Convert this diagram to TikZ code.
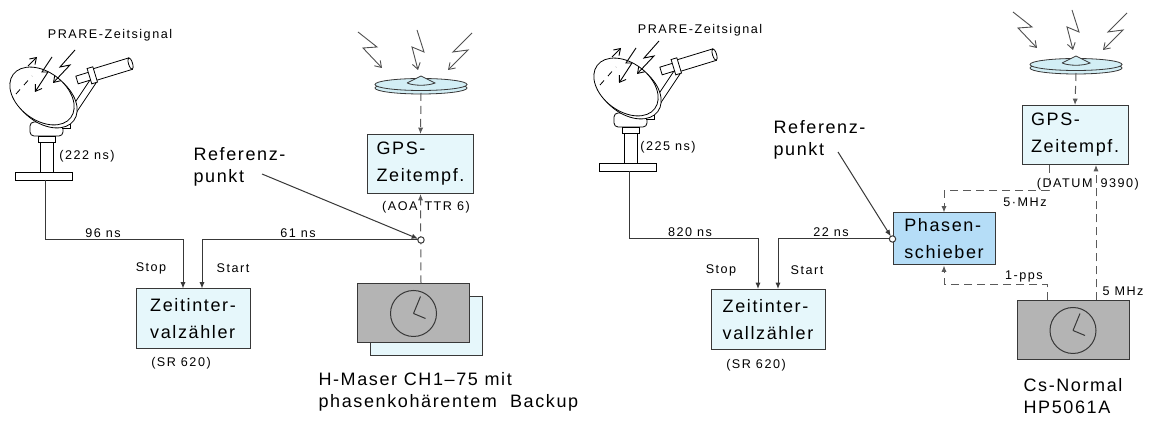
\documentclass[tikz,border=0pt]{standalone}
\usepackage{fontspec}
\setmainfont{Liberation Sans}
\newfontfamily\labelfont[LetterSpace=9]{Liberation Sans}
\newfontfamily\notefont[LetterSpace=12]{Liberation Sans}
\usetikzlibrary{arrows.meta,calc}
\definecolor{boxCyan}{HTML}{E6F7FB}
\definecolor{boxBlue}{HTML}{B5DDF7}
\definecolor{clockGray}{HTML}{B4B4B4}
\definecolor{lineGray}{HTML}{383838}
\definecolor{dashGray}{HTML}{5A5A5A}
\definecolor{boltGray}{HTML}{505050}
\definecolor{dishCyan}{HTML}{D2EEF5}

% satellite dish with three incoming bolts
\newcommand{\gpsdish}[2]{%
  \begin{scope}[shift={#1}]
    \draw[bolt] (358,32) -- (377,47) -- (363,48) -- (382,68);
    \draw[bolt] (417,30) -- (424,52) -- (412,47) -- (418,70);
    \draw[bolt] (472,33) -- (453,52) -- (468,50) -- (448,70);
    \draw[dish] (421,88) ellipse [x radius=23pt, y radius=3pt];
    \draw[dish] (421,84.5) ellipse [x radius=23pt, y radius=3pt];
    \draw[dish] (407,83) -- (421,76) -- (435,83) .. controls (428,86) and (414,86) .. (407,83);
    \coordinate (#2) at (421,93);
  \end{scope}}

% PRARE ground antenna on its pedestal
\newcommand{\prare}[2]{%
  \begin{scope}[shift={#1}]
    \draw[ant] (15,172) rectangle (72,180);
    \draw[ant] (40,140) rectangle (53,172);
    \draw[ant] (38,136) rectangle (55,142);
    \draw[ant, rounded corners=2pt] (30,122) rectangle (63,136);
    \draw[ant] (62,121) rectangle (70,128);
    % strut
    \draw[ant] (66,116) -- (90,80) -- (96,83) -- (72,119) -- cycle;
    % dish
    \draw[ant, rotate around={-37:(45,99)}] (45,99) ellipse [x radius=18pt, y radius=12pt];
    \draw[ant, rotate around={-37:(42,96)}] (42,96) ellipse [x radius=18pt, y radius=12pt];
    \draw[ant, dashed, fill=none] (16,94) -- (32,76);
    % feed horn
    \begin{scope}[rotate around={17:(77,80)}]
      \draw[ant] (77,76) rectangle (93,84);
      \draw[ant] (93,74) rectangle (133,86);
      \draw[ant] (133,80) ellipse [x radius=1pt, y radius=3pt];
      \draw[ant] (90,72) rectangle (96,88);
    \end{scope}
    % signal
    \draw[bolt, draw=black] (75,50) -- (60,67) -- (70,65) -- (53,83);
    \draw[bolt, draw=black] (52,57) -- (42,72) -- (48,72) -- (35,92);
    \draw[bolt, draw=black] (28,66) -- (37,57);
    \coordinate (#2) at (45,180);
  \end{scope}}

% clock dial inside a frequency standard
\newcommand{\clockface}[1]{%
  \draw[lineGray] (#1.center) circle [radius=11.5pt];
  \draw[lineGray] (#1.center) -- ++(3.5pt,8.5pt) (#1.center) -- ++(6pt,-2.5pt);}

\begin{document}
\begin{tikzpicture}[x=0.5pt,y=-0.5pt,line width=0.5pt,
    box/.style={draw=lineGray, fill=boxCyan, align=left, inner sep=0pt,
      font=\labelfont\fontsize{9}{13.5}\selectfont},
    counterbox/.style={box, minimum width=57pt, minimum height=30pt},
    gpsbox/.style={box, minimum width=53pt, minimum height=29.5pt},
    shifterbox/.style={box, fill=boxBlue, minimum width=51pt, minimum height=26pt},
    clockbox/.style={draw=lineGray, fill=clockGray, minimum width=56pt, minimum height=29.5pt},
    refpt/.style={circle, draw=lineGray, fill=white, inner sep=0pt, minimum size=3.2pt},
    note/.style={font=\notefont\fontsize{6.3}{7}\selectfont, inner sep=0pt},
    label/.style={font=\labelfont\fontsize{9}{11}\selectfont, align=left, inner sep=0pt},
    sig/.style={draw=lineGray, -{Latex[length=3.2pt,width=2.6pt]}},
    dsig/.style={sig, draw=dashGray, dash pattern=on 4pt off 2.5pt},
    bolt/.style={draw=boltGray, line width=0.45pt, -{Straight Barb[length=3pt,width=4pt]}},
    dish/.style={draw=lineGray, fill=dishCyan, line width=0.4pt},
    ant/.style={draw=black, fill=white, line width=0.4pt}]

  \fill[white] (0,0) rectangle (1156,421);
  \useasboundingbox (0,0) rectangle (1156,421);

  %% H-maser set-up
  \prare{(0,0)}{prareL}
  \gpsdish{(0,0)}{dishL}
  \node[note] (prareLtxt) at (110,35) {PRARE-Zeitsignal};
  \node[note] (delayL) at (87,156) {(222 ns)};

  \node[counterbox] (zaehlerL) at (193,319) {Zeitinter-\\valzähler};
  \node[note] (srL) at (181,363) {(SR 620)};
  \node[gpsbox] (gpsL) at (420.5,164) {GPS-\\Zeitempf.};
  \node[note, anchor=east] (aoaL) at (418,207) {(AOA};
  \node[note, anchor=west] (ttrL) at (424,207) {TTR 6)};

  \node[clockbox, fill=boxCyan] (backup) at (426,326) {};
  \node[clockbox] (maser) at (413.5,313.5) {};
  \clockface{maser}
  \node[label, anchor=north west] (maserTxt) at (318,372)
    {H-Maser CH1–75 mit\\phasenkohärentem\ \ Backup};

  \coordinate (refL) at (421,240);
  \coordinate (stopL) at ($(zaehlerL.north)+(-10,0)$);
  \coordinate (startL) at ($(zaehlerL.north)+(9,0)$);
  \node[label, anchor=north west] (refLtxt) at (193,147) {Referenz-\\punkt};
  \coordinate (refLfrom) at (262,174);

  \draw[sig] (prareL) |- (stopL |- refL) -- (stopL);
  \draw[sig] (refL) -| (startL);
  \draw[dsig] (refL |- maser.north) -- (gpsL.south);
  \draw[dsig] (dishL) -- (gpsL.north);
  \draw[sig, shorten >=1.6pt] (refLfrom) -- (refL);
  \node[refpt] (refLdot) at (refL) {};

  \node[note] (stopLtxt) at (151,268) {Stop};
  \node[note] (startLtxt) at (233,268) {Start};
  \node[note] (nsStopL) at (103,233) {96 ns};
  \node[note] (nsStartL) at (298,233) {61 ns};

  %% Cs set-up
  \prare{(584,-9)}{prareR}
  \gpsdish{(655,-20)}{dishR}
  \node[note] (prareRtxt) at (700,30) {PRARE-Zeitsignal};
  \node[note] (delayR) at (668,147) {(225 ns)};

  \node[counterbox] (zaehlerR) at (768,319.5) {Zeitinter-\\vallzähler};
  \node[note] (srR) at (756,365) {(SR 620)};
  \node[shifterbox] (shifter) at (944,239) {Phasen-\\schieber};
  \node[gpsbox] (gpsR) at (1075,135) {GPS-\\Zeitempf.};
  \node[note, anchor=east] (datumR) at (1093,184) {(DATUM};
  \node[note, anchor=west] (numR) at (1100,184) {9390)};

  \node[clockbox] (cs) at (1073,330.5) {};
  \clockface{cs}
  \node[label, anchor=north west] (csTxt) at (1023,378) {Cs-Normal\\HP5061A};

  \coordinate (refR) at (shifter.west);
  \coordinate (stopR) at ($(zaehlerR.north)+(-10,0)$);
  \coordinate (startR) at ($(zaehlerR.north)+(10,0)$);
  \node[label, anchor=north west] (refRtxt) at (773,120) {Referenz-\\punkt};
  \coordinate (refRfrom) at (838,152);
  \coordinate (gpsRout) at ($(gpsR.south)+(-26,0)$);
  \coordinate (csPps) at ($(cs.north)+(-26,0)$);
  \coordinate (csFreq) at ($(cs.north)+(23,0)$);

  \draw[sig] (prareR) |- (stopR |- refR) -- (stopR);
  \draw[sig] (refR) -| (startR);
  \draw[sig, shorten >=1.6pt] (refRfrom) -- (refR);
  \draw[dsig] (dishR) -- (gpsR.north);
  \draw[dsig] (gpsRout) -- ++(0,26) -| (shifter.north);
  \draw[dsig] (csPps) -- ++(0,-16) -| (shifter.south);
  \draw[dsig] (csFreq) -- (csFreq |- gpsR.south);
  \node[refpt] (refRdot) at (refR) {};

  \node[note] (stopRtxt) at (721,270) {Stop};
  \node[note] (startRtxt) at (807,270) {Start};
  \node[note] (nsStopR) at (690,232) {820 ns};
  \node[note] (nsStartR) at (831,232) {22 ns};
  \node[note] (mhzA) at (1025,202) {5·MHz};
  \node[note] (ppsTxt) at (1024,276) {1-pps};
  \node[note, anchor=west] (mhzB) at (1102,291) {5 MHz};
\end{tikzpicture}
\end{document}
